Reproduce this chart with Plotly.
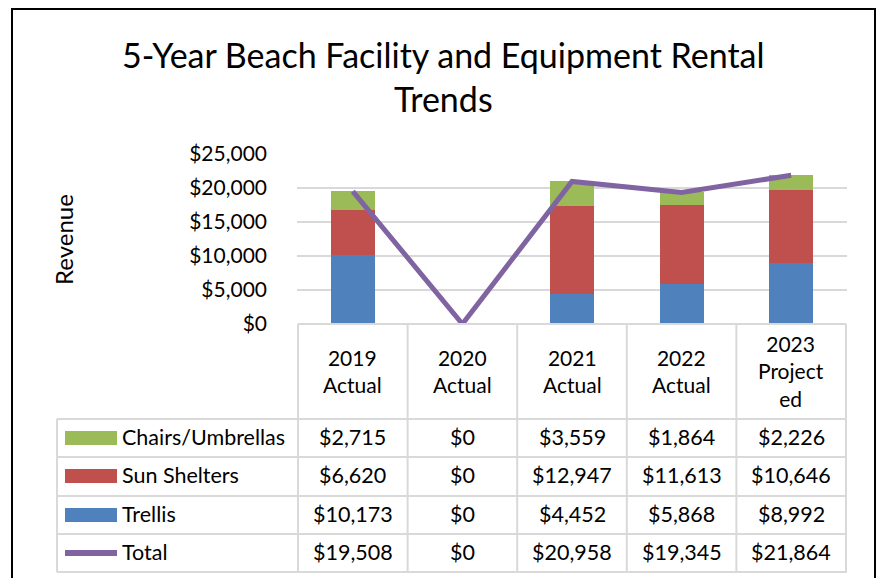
import plotly.graph_objects as go

categories = ["2019 Actual", "2020 Actual", "2021 Actual", "2022 Actual", "2023 Projected"]
header_labels = ["2019<br>Actual", "2020<br>Actual", "2021<br>Actual", "2022<br>Actual", "2023<br>Project<br>ed"]
chairs = [2715, 0, 3559, 1864, 2226]
sun_shelters = [6620, 0, 12947, 11613, 10646]
trellis = [10173, 0, 4452, 5868, 8992]
total = [19508, 0, 20958, 19345, 21864]

series_names = ["Chairs/Umbrellas", "Sun Shelters", "Trellis", "Total"]
series_values = [chairs, sun_shelters, trellis, total]
series_colors = ["#9BBB59", "#C0504D", "#4F81BD", "#8064A2"]

W, H = 877, 578
FONT = "Lato"
GRID = "#D9D9D9"
TXT = 21

def px(xp):
    return xp / W

def py(yp):
    return 1 - yp / H

fig = go.Figure()
fig.add_trace(go.Bar(x=categories, y=trellis, name="Trellis", marker_color=series_colors[2],
                     marker_line_width=0, width=0.4))
fig.add_trace(go.Bar(x=categories, y=sun_shelters, name="Sun Shelters", marker_color=series_colors[1],
                     marker_line_width=0, width=0.4))
fig.add_trace(go.Bar(x=categories, y=chairs, name="Chairs/Umbrellas", marker_color=series_colors[0],
                     marker_line_width=0, width=0.4))
fig.add_trace(go.Scatter(x=categories, y=total, name="Total", mode="lines",
                         line=dict(color=series_colors[3], width=5)))

plot_left, plot_right = 297, 847
plot_top, plot_bottom = 154, 324

shapes = []
annotations = []

# outer frame
shapes.append(dict(type="rect", xref="paper", yref="paper", x0=px(12), x1=px(875), y0=py(H + 20), y1=py(9),
                   line=dict(color="black", width=2), fillcolor="rgba(0,0,0,0)"))

# table lines
row_lines = [419, 457, 496, 534, 572]
tbl_left = 57
lc = dict(color=GRID, width=2)
shapes.append(dict(type="line", xref="x", yref="paper", x0=-0.5, x1=4.5, y0=py(plot_bottom), y1=py(plot_bottom), line=lc))
for yy in row_lines:
    shapes.append(dict(type="line", xref="paper", yref="paper", x0=px(tbl_left), x1=px(plot_right),
                       y0=py(yy), y1=py(yy), line=lc))
for i in range(6):
    shapes.append(dict(type="line", xref="x", yref="paper", x0=i - 0.5, x1=i - 0.5,
                       y0=py(plot_bottom), y1=py(row_lines[-1]), line=lc))
shapes.append(dict(type="line", xref="paper", yref="paper", x0=px(tbl_left), x1=px(tbl_left),
                   y0=py(row_lines[0]), y1=py(row_lines[-1]), line=lc))

# header labels
for cat, lab in zip(categories, header_labels):
    annotations.append(dict(x=cat, xref="x", y=py(371), yref="paper", text=lab, showarrow=False,
                            font=dict(family=FONT, size=TXT, color="black"), align="center",
                            xanchor="center", yanchor="middle"))

row_centers = [437, 475, 514, 552]
for name, vals, color, yc in zip(series_names, series_values, series_colors, row_centers):
    thick = 14 if name != "Total" else 6
    shapes.append(dict(type="rect", xref="paper", yref="paper", x0=px(65), x1=px(117),
                       y0=py(yc + 1 + thick / 2), y1=py(yc + 1 - thick / 2), fillcolor=color, line=dict(width=0)))
    annotations.append(dict(x=px(120), xref="paper", y=py(yc), yref="paper", text=name, showarrow=False,
                            font=dict(family=FONT, size=21.5, color="black"), xanchor="left", yanchor="middle"))
    for cat, v in zip(categories, vals):
        annotations.append(dict(x=cat, xref="x", y=py(yc), yref="paper", text="${:,}".format(v), showarrow=False,
                                font=dict(family=FONT, size=21.5, color="black"), xanchor="center", yanchor="middle"))

annotations.append(dict(x=px(64), xref="paper", y=py(240), yref="paper", text="Revenue", textangle=-90,
                        showarrow=False, font=dict(family=FONT, size=24, color="black"),
                        xanchor="center", yanchor="middle"))
annotations.append(dict(x=px(443), xref="paper", y=py(77), yref="paper",
                        text="5-Year Beach Facility and Equipment Rental<br>Trends", showarrow=False,
                        font=dict(family=FONT, size=34, color="black"), xanchor="center", yanchor="middle",
                        align="center"))

fig.update_layout(
    width=W, height=H, margin=dict(l=0, r=0, t=0, b=0, autoexpand=False),
    paper_bgcolor="white", plot_bgcolor="white",
    barmode="stack", showlegend=False, bargap=0.6,
    shapes=shapes, annotations=annotations,
    font=dict(family=FONT, color="black"),
    xaxis=dict(domain=[px(plot_left), px(plot_right)], showticklabels=False, showgrid=False, automargin=False,
               zeroline=False, showline=False, ticks="", categoryorder="array", categoryarray=categories),
    yaxis=dict(domain=[py(plot_bottom), py(plot_top)], range=[0, 25000], dtick=5000, automargin=False,
               tickprefix="$", tickformat=",d", showgrid=True, gridcolor=GRID, gridwidth=2,
               zeroline=False, showline=False, ticks="", ticklabelstandoff=29,
               tickfont=dict(family=FONT, size=TXT, color="black")),
)

fig.write_html("out.html", post_script="document.body.style.margin='0px';", config={"displayModeBar": False})
